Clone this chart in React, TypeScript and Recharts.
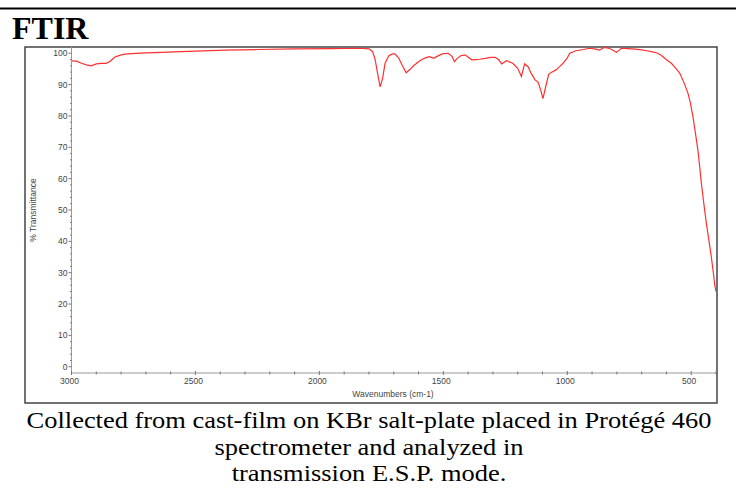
import React from "react";
import { LineChart, Line, XAxis, YAxis } from "recharts";

const wavenumbers = [
  3000, 2980, 2960, 2940, 2920, 2900, 2880, 2860, 2845, 2825, 2800, 2777, 2700, 2640, 2500, 2375, 2250, 2100, 1950, 1840,
  1800, 1785, 1775, 1765, 1755, 1745, 1735, 1720, 1705, 1695, 1680, 1665, 1650, 1635, 1620, 1600, 1585, 1570, 1555, 1540,
  1525, 1505, 1480, 1465, 1455, 1445, 1430, 1413, 1395, 1385, 1370, 1355, 1330, 1310, 1290, 1275, 1265, 1245, 1220, 1200,
  1185, 1172, 1158, 1145, 1130, 1118, 1108, 1098, 1088, 1075, 1065, 1045, 1030, 1017, 1000, 990, 965, 935, 910, 885,
  870, 850, 835, 822, 802, 790, 782, 760, 735, 700, 680, 660, 635, 620, 607, 590, 580, 560, 546, 530,
  513, 503, 493, 483, 473, 466, 459, 449, 439, 429, 419, 410, 405, 400,
];

const transmittance = [
  97.6, 97.5, 96.8, 96.3, 96.0, 96.6, 96.8, 96.8, 97.4, 98.8, 99.5, 99.8, 100.1, 100.3, 100.7, 101.0, 101.2, 101.4, 101.5, 101.6,
  101.4, 100.5, 98.0, 93.5, 89.3, 92.0, 96.8, 99.2, 99.8, 99.8, 98.5, 96.0, 93.8, 94.8, 96.0, 97.3, 98.1, 98.6, 98.9, 98.4,
  99.0, 99.8, 100.0, 99.0, 97.3, 98.3, 99.2, 99.5, 98.5, 97.9, 98.0, 98.1, 98.4, 98.7, 98.7, 97.8, 96.6, 97.6, 96.8, 95.2,
  92.6, 96.6, 95.7, 93.5, 91.5, 90.8, 88.5, 85.5, 89.0, 93.3, 93.9, 94.7, 95.8, 96.8, 98.5, 100.0, 100.8, 101.2, 101.6, 101.3,
  101.0, 101.9, 101.6, 101.3, 100.3, 101.0, 101.6, 101.5, 101.4, 101.1, 100.8, 100.5, 100.0, 99.3, 98.4, 97.4, 96.8, 95.0, 93.6, 90.8,
  87.2, 84.0, 79.8, 74.5, 69.1, 64.0, 58.5, 52.0, 45.8, 40.5, 35.1, 29.5, 26.0, 24.0,
];

const xTicks = Array.from({ length: 27 }, (_, i) => 400 + i * 100);
const yTicks = Array.from({ length: 51 }, (_, i) => i * 2);

const title = "FTIR";
const xLabel = "Wavenumbers (cm-1)";
const yLabel = "% Transmittance";
const captionLines = [
  "Collected from cast-film on KBr salt-plate placed in Protégé 460",
  "spectrometer and analyzed in",
  "transmission E.S.P. mode.",
];

const data = wavenumbers.map((w, i) => ({ w, t: transmittance[i] }));

const tickFont = "'Liberation Sans', Arial, sans-serif";

const YTick = (props: any) => {
  const { x, y, payload } = props;
  const v = payload.value;
  const major = v % 10 === 0;
  return (
    <g>
      <line x1={x - (major ? 3 : 1.5)} x2={x} y1={y} y2={y} stroke="#777" strokeWidth={1} />
      {major && (
        <text x={x - 4} y={y} dy={3} textAnchor="end" fontSize={8.5} fontFamily={tickFont} fill="#444">
          {v}
        </text>
      )}
    </g>
  );
};

const XTick = (props: any) => {
  const { x, y, payload } = props;
  const v = payload.value;
  const major = v % 500 === 0;
  return (
    <g>
      <line x1={x} x2={x} y1={y - (major ? 2 : 1.5)} y2={y + (major ? 2 : 1.5)} stroke="#777" strokeWidth={1} />
      {major && (
        <text x={x - 2} y={y} dy={11} textAnchor="middle" fontSize={8.5} fontFamily={tickFont} fill="#444">
          {v}
        </text>
      )}
    </g>
  );
};

export default function App() {
  return (
    <div style={{ position: "absolute", left: 0, top: 0, width: 736, height: 491, background: "#fff" }}>
      <svg width={736} height={491} style={{ position: "absolute", left: 0, top: 0 }}>
        <rect x={0} y={7.5} width={736} height={2} fill="#000" />
        <text x={12} y={39} fontFamily="'Liberation Serif', 'Times New Roman', serif" fontWeight="bold" fontSize={32} fill="#000">
          {title}
        </text>
        <rect x={25} y={47} width={692} height={356} fill="none" stroke="#444" strokeWidth={1.5} />
        <text
          x={33}
          y={210}
          transform="rotate(-90 33 210)"
          textAnchor="middle"
          dy={3}
          fontSize={8.5}
          fontFamily={tickFont}
          fill="#444"
        >
          {yLabel}
        </text>
        <text x={393} y={397} textAnchor="middle" fontSize={8.5} fontFamily={tickFont} fill="#444">
          {xLabel}
        </text>
        {captionLines.map((line, i) => (
          <g key={i} transform={`translate(369 ${428 + i * 26.5}) scale(1.15 1)`}>
            <text
              x={0}
              y={0}
              textAnchor="middle"
              fontFamily="'Liberation Serif', 'Times New Roman', serif"
              fontSize={23}
              fill="#000"
            >
              {line}
            </text>
          </g>
        ))}
      </svg>
      <div style={{ position: "absolute", left: 0, top: 0 }}>
        <LineChart width={736} height={491} data={data} margin={{ top: 47, right: 20, bottom: 0, left: 0 }}>
          <XAxis
            dataKey="w"
            type="number"
            domain={[400, 3000]}
            reversed
            ticks={xTicks}
            interval={0}
            height={118}
            tickSize={0}
            tickMargin={0}
            tick={XTick}
            axisLine={{ stroke: "#999", strokeWidth: 1 }}
            tickLine={false}
            allowDataOverflow
          />
          <YAxis
            type="number"
            domain={[-2, 102]}
            ticks={yTicks}
            interval={0}
            width={71.5}
            tickSize={0}
            tickMargin={0}
            tick={YTick}
            axisLine={{ stroke: "#999", strokeWidth: 1 }}
            tickLine={false}
            allowDataOverflow
          />
          <Line
            dataKey="t"
            type="linear"
            stroke="#ff3030"
            strokeWidth={1.2}
            dot={false}
            isAnimationActive={false}
          />
        </LineChart>
      </div>
    </div>
  );
}
